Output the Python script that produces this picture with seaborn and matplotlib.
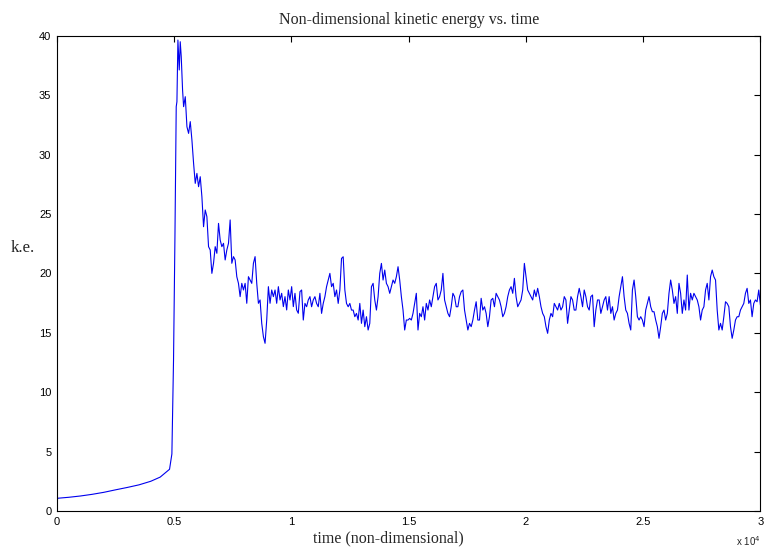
import numpy as np
import pandas as pd
import matplotlib
matplotlib.use("Agg")
import matplotlib.pyplot as plt
import seaborn as sns
from matplotlib.ticker import FuncFormatter


# --- start-up and blow-up phase (irregular output times) ---
t_early = [0, 30, 500, 1000, 1500, 2000, 2500, 3000, 3500, 4000, 4400, 4680, 4800,
           4900, 4970, 5030, 5085, 5115, 5157, 5214, 5256, 5299, 5356]
ke_early = [0.78, 1.07, 1.15, 1.26, 1.40, 1.57, 1.78, 1.98, 2.20, 2.50, 2.85, 3.31, 3.51,
            4.80, 12.7, 23.0, 34.05, 34.47, 39.66, 37.14, 39.52, 38.26, 35.45]

# --- saturated phase, written every output step from t = 5400 to t = 30000 ---
ke_late = [
    34.05, 34.89, 32.36, 31.80, 32.79, 31.24, 29.28, 27.59, 28.43, 27.31,
    28.15, 26.47, 23.94, 25.35, 24.79, 22.26, 21.98, 20.01, 20.86, 22.26,
    21.70, 24.22, 22.82, 22.26, 22.54, 21.14, 21.98, 22.54, 24.51, 20.86,
    21.42, 21.14, 19.73, 19.17, 18.05, 19.17, 18.61, 19.17, 17.49, 19.73,
    19.45, 19.17, 20.86, 21.42, 19.17, 17.49, 17.77, 15.80, 14.68, 14.12,
    16.08, 18.89, 17.49, 18.61, 18.05, 18.61, 17.49, 18.89, 17.77, 18.33,
    17.21, 18.05, 16.93, 18.61, 17.77, 18.89, 17.21, 18.33, 16.93, 16.65,
    # 1.04e4 - 1.67e4
    18.47, 18.61, 16.08, 17.48, 17.20, 17.77, 18.05, 17.20, 17.77, 18.05,
    17.48, 17.20, 18.33, 16.64, 17.48, 18.05, 18.89, 19.45, 20.01, 18.89,
    19.17, 18.05, 18.61, 17.48, 18.61, 21.27, 21.41, 18.61, 17.48, 17.20,
    17.48, 16.92, 16.92, 16.36, 16.64, 16.08, 17.48, 15.80, 16.92, 15.52,
    16.36, 15.24, 15.80, 18.89, 19.17, 17.77, 16.92, 18.05, 20.01, 20.85,
    19.45, 20.29, 19.17, 18.89, 18.33, 18.89, 19.45, 19.17, 19.73, 20.57,
    19.45, 18.05, 16.92, 15.24, 16.08, 16.08, 16.22, 16.08, 16.64, 17.48,
    18.33, 15.24, 16.64, 16.36, 17.20, 16.08, 17.48, 16.92, 17.77, 17.20,
    18.05, 18.89, 19.17, 17.77, 18.05, 18.61, 20.01, 17.77, 17.20, 16.64,
    # 1.68e4 - 2.36e4
    16.36, 17.20, 18.33, 18.05, 17.20, 17.20, 18.05, 18.47, 18.61, 16.92,
    16.08, 15.24, 15.80, 15.52, 16.08, 16.92, 17.62, 16.08, 16.08, 17.91,
    16.92, 17.20, 16.64, 15.52, 16.36, 17.77, 17.91, 17.20, 18.33, 18.05,
    17.77, 17.20, 16.36, 16.64, 17.20, 18.05, 18.61, 18.89, 18.33, 19.59,
    18.05, 17.20, 17.48, 17.77, 18.61, 20.85, 19.73, 18.61, 18.33, 18.05,
    17.77, 18.61, 18.05, 18.75, 18.05, 17.20, 16.64, 16.36, 15.52, 14.96,
    16.08, 16.64, 16.36, 17.48, 17.20, 16.92, 17.48, 16.92, 17.20, 18.05,
    17.77, 15.80, 16.92, 18.05, 17.77, 16.92, 16.92, 18.05, 18.75, 18.05,
    17.20, 18.61, 18.05, 17.20, 16.92, 18.05, 18.19, 15.52, 16.92, 17.77,
    17.77, 16.64, 17.20, 17.77, 18.05, 16.92,
    # 2.36e4 - 3.0e4
    18.05, 16.64, 17.20, 16.08, 16.64, 16.92, 18.05, 18.89, 19.73, 18.05,
    16.92, 16.64, 15.80, 15.24, 18.61, 19.45, 18.05, 16.36, 16.08, 16.36,
    16.08, 15.52, 16.92, 17.48, 18.05, 17.20, 16.78, 16.78, 16.08, 15.52,
    14.54, 15.52, 16.64, 16.92, 16.08, 16.64, 18.33, 19.45, 18.61, 17.48,
    18.05, 16.64, 19.17, 18.33, 16.64, 17.77, 16.92, 19.87, 16.92, 18.33,
    17.77, 18.33, 18.05, 17.77, 17.20, 16.08, 16.92, 17.20, 18.61, 19.17,
    17.77, 19.73, 20.29, 19.73, 19.45, 16.92, 15.24, 15.80, 15.24, 16.36,
    17.62, 17.48, 17.20, 15.52, 14.54, 15.24, 16.08, 16.36, 16.36, 16.92,
    17.20, 17.48, 18.33, 18.75, 17.48, 17.77, 16.36, 17.48, 17.77, 17.62,
    18.61, 17.34,
]

t_late = np.linspace(5400, 30000, len(ke_late))

df = pd.DataFrame({
    "time": np.concatenate([t_early, t_late]),
    "ke": np.concatenate([ke_early, ke_late]),
})

sns.set_style("white")
plt.rcParams["font.family"] = ["Liberation Sans", "DejaVu Sans"]

fig = plt.figure(figsize=(7.65, 5.5), dpi=100)
ax = fig.add_axes([0.0745, 0.071, 0.9195, 0.8635])

sns.lineplot(data=df, x="time", y="ke", ax=ax, color="#0000ee",
             linewidth=0.8, estimator=None, sort=False)

ax.set_xlim(0, 30000)
ax.set_ylim(0, 40)
ax.set_xticks(np.arange(0, 30001, 5000))
ax.set_yticks(np.arange(0, 41, 5))
ax.xaxis.set_major_formatter(FuncFormatter(lambda v, p: f"{v / 1e4:g}"))
ax.tick_params(direction="in", length=4, width=0.8, labelsize=8,
               top=True, right=True, colors="black", pad=4)

for s in ax.spines.values():
    s.set_visible(True)
    s.set_color("black")
    s.set_linewidth(0.8)

serif = ["Liberation Serif", "DejaVu Serif"]
ax.set_title("Non-dimensional kinetic energy vs. time", family=serif,
             fontsize=11.5, pad=9)
ax.set_xlabel("time (non-dimensional)", family=serif, fontsize=11.5)
ax.xaxis.set_label_coords(0.4705, -0.04)
ax.set_ylabel("k.e.", family=serif, fontsize=12, rotation=0, va="center")
ax.yaxis.set_label_coords(-0.048, 0.553)

ax.text(1.0, -0.048, r"x 10$^4$", transform=ax.transAxes, ha="right", va="top",
        fontsize=7)

fig.savefig("out.png", dpi=100)
